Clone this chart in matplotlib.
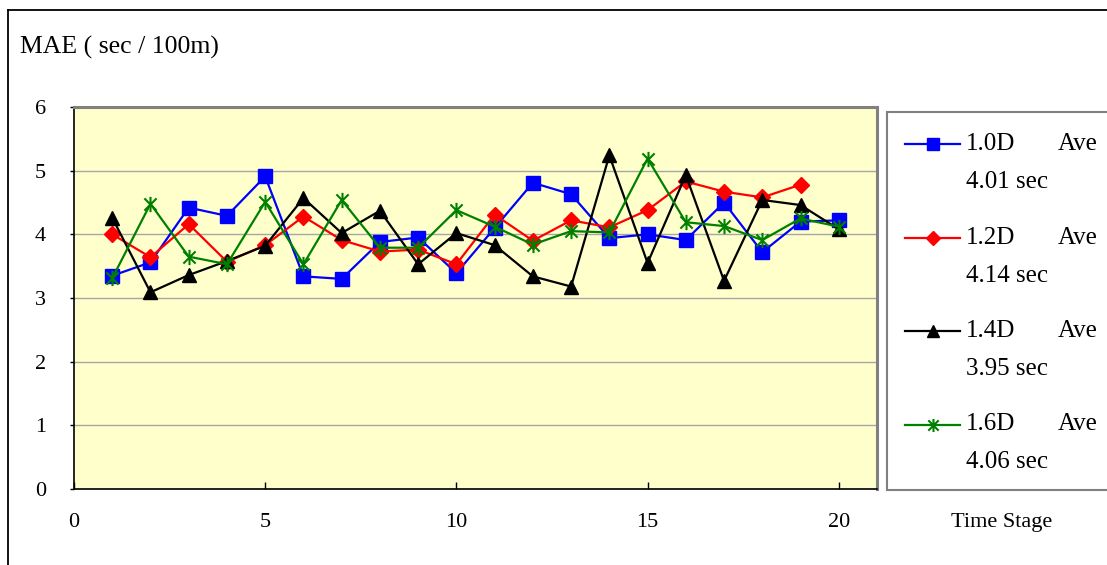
import matplotlib
matplotlib.use("Agg")
import matplotlib.pyplot as plt
from matplotlib.lines import Line2D
from matplotlib.patches import Rectangle
from matplotlib.path import Path

# MAE per time stage for each detector spacing
stages = list(range(1, 21))
mae_10d = [3.35, 3.56, 4.42, 4.29, 4.91, 3.34, 3.30, 3.88, 3.95, 3.39,
           4.10, 4.81, 4.63, 3.94, 4.00, 3.91, 4.50, 3.72, 4.20, 4.22]
mae_12d = [4.00, 3.64, 4.16, 3.57, 3.83, 4.28, 3.91, 3.73, 3.76, 3.53,
           4.31, 3.90, 4.22, 4.11, 4.38, 4.83, 4.67, 4.58, 4.78]
mae_14d = [4.26, 3.09, 3.36, 3.58, 3.82, 4.57, 4.02, 4.37, 3.53, 4.02,
           3.83, 3.34, 3.18, 5.24, 3.55, 4.93, 3.27, 4.54, 4.46, 4.08]
mae_16d = [3.31, 4.48, 3.65, 3.53, 4.51, 3.53, 4.54, 3.79, 3.79, 4.38,
           4.12, 3.84, 4.05, 4.03, 5.19, 4.19, 4.13, 3.91, 4.25, 4.12]

series_names = ["1.0D", "1.2D", "1.4D", "1.6D"]
series_avgs = ["4.01 sec", "4.14 sec", "3.95 sec", "4.06 sec"]
x_ticks = [0, 5, 10, 15, 20]
y_ticks = [0, 1, 2, 3, 4, 5, 6]

plt.rcParams["font.family"] = ["Liberation Serif", "DejaVu Serif"]

W, H = 1107, 565
fig = plt.figure(figsize=(W / 100, H / 100), dpi=100)

def fx(px):
    return px / W

def fy(py):
    return 1 - py / H

ax = fig.add_axes([fx(74), fy(489), fx(877) - fx(74), fy(107) - fy(489)])
ax.set_facecolor("#FFFFCC")

# Excel-style asterisk: vertical bar plus an X
star = Path([(0, -1), (0, 1), (-0.8, -0.8), (0.8, 0.8), (-0.8, 0.8), (0.8, -0.8)],
            [Path.MOVETO, Path.LINETO, Path.MOVETO, Path.LINETO, Path.MOVETO, Path.LINETO])

styles = [
    dict(color="#0000FF", marker="s", markersize=9.5),
    dict(color="#FF0000", marker="D", markersize=8),
    dict(color="#000000", marker="^", markersize=10),
    dict(color="#008000", marker=star, markersize=11, markeredgewidth=1.5),
]
all_data = [mae_10d, mae_12d, mae_14d, mae_16d]

for data, st in zip(all_data, styles):
    ax.plot(stages[:len(data)], data, linewidth=1.6, zorder=3, **st)

ax.set_xlim(0, 21)
ax.set_ylim(0, 6)
ax.set_xticks(x_ticks)
ax.set_yticks(y_ticks)
ax.yaxis.grid(True, color="#A6A6A6", linewidth=1.0)
ax.set_axisbelow(True)
ax.tick_params(axis="x", direction="in", length=5, width=1, pad=17, labelsize=16)
ax.tick_params(axis="y", direction="out", length=3, width=1, pad=17, labelsize=16)

ax.spines["left"].set_color("black")
ax.spines["bottom"].set_color("black")
ax.spines["left"].set_linewidth(1.2)
ax.spines["bottom"].set_linewidth(1.2)
ax.spines["top"].set_color("#808080")
ax.spines["right"].set_color("#808080")
ax.spines["top"].set_linewidth(2.2)
ax.spines["right"].set_linewidth(2.2)

# Axis titles
fig.text(fx(20), fy(47), "MAE ( sec / 100m)", fontsize=18.5, ha="left", va="center")
fig.text(fx(1002), fy(522), "Time Stage", fontsize=16, ha="center", va="center")

# Outer chart frame
fig.add_artist(Line2D([fx(8), fx(8)], [fy(10), 0], transform=fig.transFigure,
                      color="black", linewidth=1.3))
fig.add_artist(Line2D([fx(8), 1], [fy(10), fy(10)], transform=fig.transFigure,
                      color="black", linewidth=1.3))

# Legend box
fig.add_artist(Rectangle((fx(887), fy(490)), 1.0, fy(112) - fy(490),
                         transform=fig.transFigure, facecolor="white",
                         edgecolor="#808080", linewidth=1.5))
row_y = [143.7, 237.5, 330.7, 424.5]
for name, avg, st, py in zip(series_names, series_avgs, styles, row_y):
    fig.add_artist(Line2D([fx(905), fx(932.5), fx(960)], [fy(py)] * 3,
                          transform=fig.transFigure, linewidth=1.6,
                          markevery=[1], **{**st, "markersize": st["markersize"] * 0.85}))
    fig.text(fx(966), fy(py), name, fontsize=18, ha="left", va="center")
    fig.text(fx(1058), fy(py), "Ave", fontsize=18, ha="left", va="center")
    fig.text(fx(966), fy(py + 38), avg, fontsize=18, ha="left", va="center")

fig.savefig("out.png", dpi=100)
